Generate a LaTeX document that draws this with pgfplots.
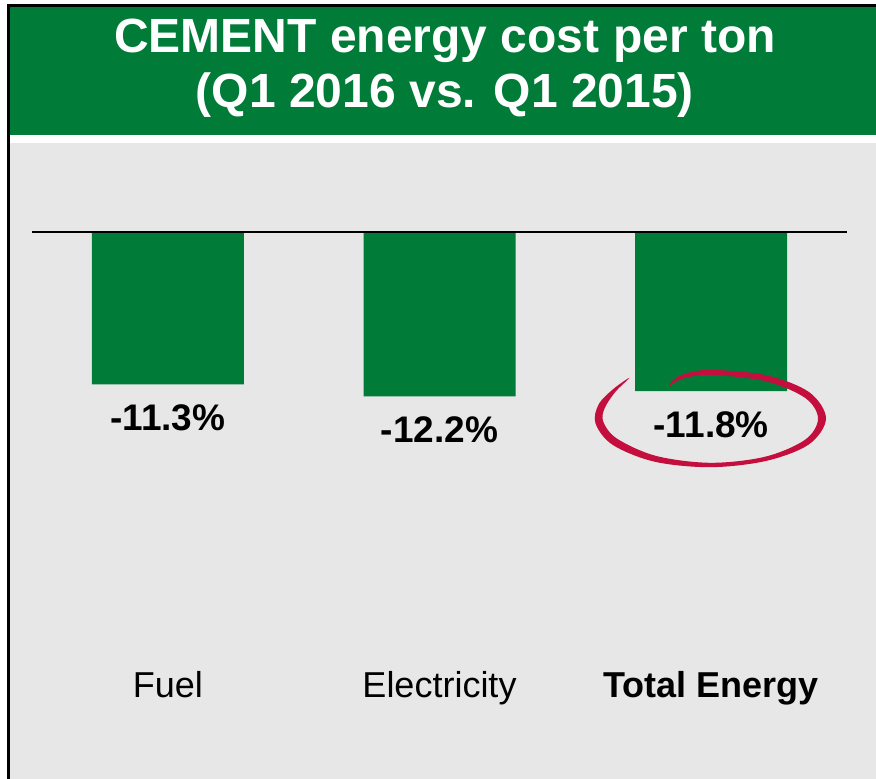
\documentclass[border=0pt]{standalone}
\usepackage{fontspec}
\setmainfont{Liberation Sans}
\usepackage{pgfplots}
\pgfplotsset{compat=1.18}
\definecolor{cemgreen}{RGB}{0,123,56}
\definecolor{panelgray}{RGB}{231,231,231}
\definecolor{markred}{RGB}{196,14,62}

\begin{document}
\begin{tikzpicture}
% frame, header band and panel (coordinates in pixels of the 876x779 picture)
\begin{scope}[x=0.5pt,y=-0.5pt]
  \useasboundingbox (0,0) rectangle (876,779);
  \fill[white] (0,0) rectangle (876,779);
  \fill[panelgray] (10,143) rectangle (876,779);
  \fill[cemgreen] (10,7) rectangle (876,135);
  \fill[black] (7,4) rectangle (876,7);
  \fill[black] (7,4) rectangle (10,779);
  \node[anchor=base,text=white,font=\bfseries\fontsize{24}{28}\selectfont] at (445,52.7) {CEMENT energy cost per ton};
  \node[anchor=base,text=white,font=\bfseries\fontsize{24}{28}\selectfont] at (445,108) {(Q1 2016 vs. Q1 2015)};
\end{scope}

\begin{axis}[
  at={(16pt,-116pt)},
  anchor=north west,
  scale only axis,
  width=407.5pt,
  height=232.5pt,
  xmin=-0.5, xmax=2.5,
  ymin=-34.5, ymax=0,
  ybar,
  bar width=76pt,
  axis line style={draw=none},
  tick style={draw=none},
  ytick=\empty,
  xtick={0,1,2},
  xticklabels={Fuel,Electricity,\textbf{Total Energy}},
  xticklabel style={anchor=base,yshift=4pt,font=\fontsize{18}{22}\selectfont},
  clip=false,
  point meta=explicit symbolic,
  nodes near coords,
  every node near coord/.append style={anchor=base,yshift=-23pt,font=\bfseries\fontsize{18.5}{22}\selectfont},
]
\addplot[fill=cemgreen,draw=none] coordinates {
  (0,-11.3) [-11.3\%]
  (1,-12.2) [-12.2\%]
  (2,-11.8) [-11.8\%]
};
\draw[line width=1pt] (axis cs:-0.5,0) -- (axis cs:2.5,0);
\end{axis}

% hand-drawn highlight round the total
\begin{scope}[x=0.5pt,y=-0.5pt]
  \fill[markred] plot[smooth cycle,tension=0.55] coordinates {
    (629.5,377.8) (613.7,388.7) (598.7,404.3) (595.5,423.4) (612.7,444.9)
    (654.6,461.7) (710.5,467.2) (766.2,460.9) (808.9,444.4) (826,418.5)
    (809.2,392.2) (766.4,375.3) (710.5,369.9) (683.5,374.3) (671.2,381.9)
    (669.2,388.4)
    (671.7,384.5) (683.9,378.3) (710.5,374.9) (765,381.1) (805,397.8)
    (818,418.5) (805.3,439.6) (765.2,456.7) (710.5,462.8) (656,455.9)
    (617.1,438.7) (603.3,421.8) (604.7,408.1) (615.5,391.7)
  };
\end{scope}
\end{tikzpicture}
\end{document}
